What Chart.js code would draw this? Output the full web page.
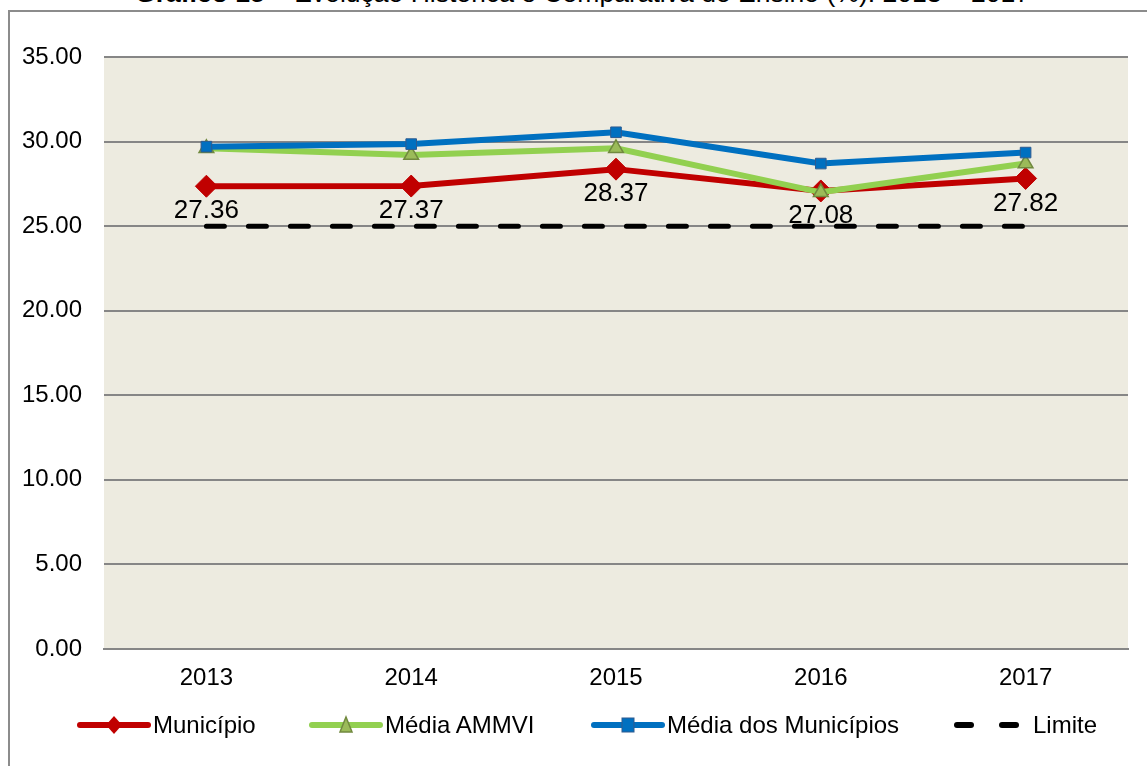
<!DOCTYPE html>
<html>
<head>
<meta charset="utf-8">
<script src="https://cdn.jsdelivr.net/npm/chart.js@4.4.1/dist/chart.umd.min.js"></script>
<style>
  html, body { margin: 0; padding: 0; background: #fff; }
  body { width: 1147px; height: 766px; position: relative; overflow: hidden; font-family: "Liberation Sans", Arial, sans-serif; }
  #frame { position: absolute; left: 8px; top: 10px; width: 1160px; height: 800px; border-left: 2px solid #8c8c8c; border-top: 2px solid #8c8c8c; }
  #title { position: absolute; left: 0; top: 0; }
  #wrap { position: absolute; left: 0; top: 0; width: 1147px; height: 766px; }
  .it { position: absolute; top: 711px; height: 28px; display: flex; align-items: center; font-size: 24px; color: #000; }
  .it svg { display: block; }
</style>
</head>
<body>
<svg id="title" width="1147" height="12">
  <text x="135" y="2" font-size="26" font-family="Liberation Sans Narrow, Arial Narrow, Liberation Sans, sans-serif" textLength="895" lengthAdjust="spacingAndGlyphs"><tspan font-weight="bold">Gráfico 15</tspan><tspan font-weight="normal"> – Evolução Histórica e Comparativa do Ensino (%): 2013 – 2017</tspan></text>
</svg>
<div id="frame"></div>
<div id="wrap"><canvas id="c" width="1147" height="766"></canvas></div>
<div id="legend"></div>
<script>
// ── Data ────────────────────────────────────────────────────
const years = ['2013', '2014', '2015', '2016', '2017'];
const municipio = [27.36, 27.37, 28.37, 27.08, 27.82];
const mediaAmmvi = [29.6, 29.2, 29.6, 27.0, 28.7];
const mediaMunicipios = [29.7, 29.85, 30.55, 28.7, 29.35];
const limite = [25, 25, 25, 25, 25];
const yTicks = [0, 5, 10, 15, 20, 25, 30, 35];

const FONT = '"Liberation Sans", Arial, sans-serif';

// ── Plot background (tan) ───────────────────────────────────
const plotBg = {
  id: 'plotBg',
  beforeDraw(chart) {
    const { ctx, chartArea: a } = chart;
    ctx.save();
    ctx.fillStyle = '#edebe0';
    ctx.fillRect(a.left, a.top, a.right - a.left, a.bottom - a.top);
    ctx.restore();
  }
};

// ── Value labels under the Município points ─────────────────
const valueLabels = {
  id: 'valueLabels',
  afterDatasetsDraw(chart) {
    const { ctx } = chart;
    const meta = chart.getDatasetMeta(0);
    ctx.save();
    ctx.font = '26px ' + FONT;
    ctx.fillStyle = '#000';
    ctx.textAlign = 'center';
    ctx.textBaseline = 'middle';
    meta.data.forEach((pt, i) => {
      ctx.fillText(municipio[i].toFixed(2), pt.x, pt.y + 25);
    });
    ctx.restore();
  }
};

const chart = new Chart(document.getElementById('c'), {
  type: 'line',
  data: {
    labels: years,
    datasets: [
      {
        label: 'Município', data: municipio,
        borderColor: '#c00000', backgroundColor: '#c00000', borderWidth: 6,
        pointStyle: 'rectRot', pointRadius: 11, pointBorderWidth: 1,
        pointBackgroundColor: '#c00000', pointBorderColor: '#c00000', order: 3
      },
      {
        label: 'Média AMMVI', data: mediaAmmvi,
        borderColor: '#92d050', backgroundColor: '#92d050', borderWidth: 6,
        pointStyle: 'triangle', pointRadius: 8.5, pointBorderWidth: 1.5,
        pointBackgroundColor: '#9bbb59', pointBorderColor: '#71893f', order: 2
      },
      {
        label: 'Média dos Municípios', data: mediaMunicipios,
        borderColor: '#0070c0', backgroundColor: '#0070c0', borderWidth: 6,
        pointStyle: 'rect', pointRadius: 7.5, pointBorderWidth: 1,
        pointBackgroundColor: '#0070c0', pointBorderColor: '#2e5b8f', order: 1
      },
      {
        label: 'Limite', data: limite,
        borderColor: '#000', backgroundColor: '#000', borderWidth: 5,
        borderDash: [18, 24], borderCapStyle: 'round',
        pointRadius: 0, order: 4
      }
    ]
  },
  options: {
    responsive: false, animation: false,
    layout: { padding: { left: 0, top: 57, right: 19, bottom: 0 } },
    elements: { line: { tension: 0 } },
    scales: {
      x: {
        offset: true,
        grid: { display: false, drawTicks: false },
        border: { display: true, color: '#868686', width: 2 },
        ticks: { color: '#000', font: { size: 24, family: FONT }, padding: 15 },
        afterFit: s => { s.height = 117; }
      },
      y: {
        min: 0, max: 35,
        afterBuildTicks: s => { s.ticks = yTicks.map(v => ({ value: v })); },
        grid: { color: '#868686', lineWidth: 2, drawTicks: false },
        border: { display: false },
        ticks: {
          color: '#000', padding: 22,
          font: { size: 24, family: FONT },
          callback: v => Number(v).toFixed(2)
        },
        afterFit: s => { s.width = 104; }
      }
    },
    plugins: {
      legend: { display: false },
      tooltip: { enabled: false }
    }
  },
  plugins: [plotBg, valueLabels]
});

// ── HTML legend ─────────────────────────────────────────────
const legendItems = [
  { text: 'Município', color: '#c00000', left: 77,
    marker: '<polygon points="37,3 45,12 37,21 29,12" fill="#c00000"/>' },
  { text: 'Média AMMVI', color: '#92d050', left: 309,
    marker: '<polygon points="37,4 43,19 31,19" fill="#9bbb59" stroke="#71893f" stroke-width="1.5"/>' },
  { text: 'Média dos Municípios', color: '#0070c0', left: 591,
    marker: '<rect x="31" y="5" width="12" height="14" fill="#0070c0" stroke="#2e5b8f"/>' },
  { text: 'Limite', dash: true, left: 953 }
];
const lg = document.getElementById('legend');
legendItems.forEach(it => {
  const d = document.createElement('div');
  d.className = 'it';
  d.style.left = it.left + 'px';
  let svg;
  if (it.dash) {
    svg = '<svg width="70" height="24"><line x1="4" y1="12" x2="18" y2="12" stroke="#000" stroke-width="6" stroke-linecap="round"/><line x1="49" y1="12" x2="63" y2="12" stroke="#000" stroke-width="6" stroke-linecap="round"/></svg>';
    d.innerHTML = svg + '<span style="margin-left:10px">' + it.text + '</span>';
  } else {
    svg = '<svg width="74" height="24"><line x1="3" y1="12" x2="71" y2="12" stroke="' + it.color + '" stroke-width="6" stroke-linecap="round"/>' + it.marker + '</svg>';
    d.innerHTML = svg + '<span style="margin-left:2px">' + it.text + '</span>';
  }
  lg.appendChild(d);
});
</script>
</body>
</html>
